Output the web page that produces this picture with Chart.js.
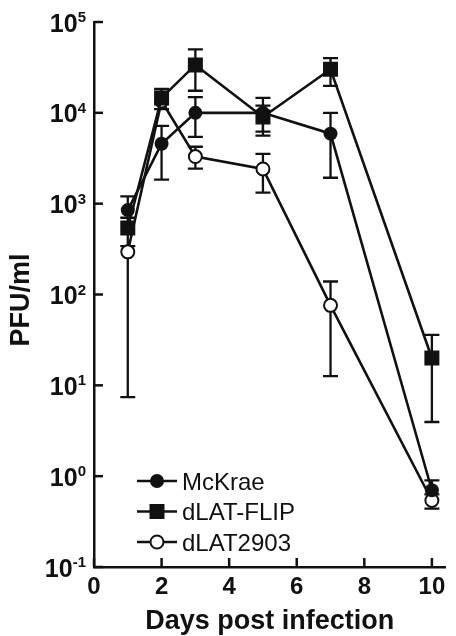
<!DOCTYPE html>
<html>
<head>
<meta charset="utf-8">
<script src="https://cdn.jsdelivr.net/npm/chart.js@4.4.0/dist/chart.umd.min.js"></script>
<style>
  html, body { margin: 0; padding: 0; background: #fff; }
  canvas { display: block; }
</style>
</head>
<body>
<canvas id="chart" width="456" height="636"></canvas>
<script>
/* ── Data ── */
const days = [1, 2, 3, 5, 7, 10];
const xTicks = [0, 2, 4, 6, 8, 10];
const yExponents = [-1, 0, 1, 2, 3, 4, 5];
const seriesNames = ['McKrae', 'dLAT-FLIP', 'dLAT2903'];

const mckrae   = [850, 4570, 10000, 10000, 5900, 0.70];
const mckraeHi = [1200, 7200, 14900, 14600, 10000, 0.90];
const mckraeLo = [null, 1840, 5450, 6200, 1930, null];

const flip   = [540, 14600, 33700, 9000, 30200, 20];
const flipHi = [700, 18300, 50000, 12000, 40000, 36];
const flipLo = [340, 11000, 17500, 5600, 19800, 3.95];

const d2903   = [295, 13500, 3300, 2410, 76, 0.54];
const d2903Hi = [null, null, 4230, 3540, 139, 0.63];
const d2903Lo = [7.4, null, 2430, 1320, 12.6, 0.44];

const INK = '#111111';
const FONT = "'Liberation Sans', Arial, sans-serif";

const errors = [
  { hi: mckraeHi, lo: mckraeLo },
  { hi: flipHi, lo: flipLo },
  { hi: d2903Hi, lo: d2903Lo },
];

function pts(values) {
  return values.map((v, i) => ({ x: days[i], y: v }));
}

/* ── Error bars under the markers ── */
const errorBars = {
  id: 'errorBars',
  beforeDatasetsDraw(chart) {
    const { ctx, scales: { x, y } } = chart;
    ctx.save();
    ctx.strokeStyle = INK;
    ctx.lineWidth = 2.3;
    errors.forEach((err, di) => {
      const vals = chart.data.datasets[di].data;
      vals.forEach((p, j) => {
        const px = x.getPixelForValue(p.x);
        const py = y.getPixelForValue(p.y);
        [err.hi[j], err.lo[j]].forEach(v => {
          if (v == null) return;
          const ey = y.getPixelForValue(v);
          ctx.beginPath();
          ctx.moveTo(px, py);
          ctx.lineTo(px, ey);
          ctx.moveTo(px - 7.5, ey);
          ctx.lineTo(px + 7.5, ey);
          ctx.stroke();
        });
      });
    });
    ctx.restore();
  },
};

/* ── Inward ticks, superscript y labels, y title, legend ── */
const decorations = {
  id: 'decorations',
  afterDraw(chart) {
    const { ctx, chartArea: a, scales: { x, y } } = chart;
    ctx.save();
    ctx.strokeStyle = INK;
    ctx.fillStyle = INK;
    ctx.lineWidth = 2.5;

    // y ticks + labels
    yExponents.forEach(e => {
      const py = y.getPixelForValue(Math.pow(10, e));
      ctx.beginPath();
      ctx.moveTo(a.left, py);
      ctx.lineTo(a.left + 9, py);
      ctx.stroke();

      const sup = e < 0 ? '-' + Math.abs(e) : String(e);
      ctx.font = `bold 15px ${FONT}`;
      const supW = ctx.measureText(sup).width;
      ctx.textAlign = 'right';
      ctx.textBaseline = 'alphabetic';
      ctx.fillText(sup, 86, py);
      ctx.font = `bold 25px ${FONT}`;
      ctx.fillText('10', 86 - supW, py + 9.5);
    });

    // x ticks
    xTicks.forEach(v => {
      const px = x.getPixelForValue(v);
      ctx.beginPath();
      ctx.moveTo(px, a.bottom);
      ctx.lineTo(px, a.bottom - 9);
      ctx.stroke();
    });

    // y title
    ctx.save();
    ctx.translate(22, 300);
    ctx.rotate(-Math.PI / 2);
    ctx.font = `bold 27px ${FONT}`;
    ctx.textAlign = 'center';
    ctx.textBaseline = 'middle';
    ctx.fillText('PFU/ml', 0, 0);
    ctx.restore();

    // legend
    const lx = a.left + 43;
    chart.data.datasets.forEach((ds, i) => {
      const ly = a.bottom - 86 + i * 30.5;
      ctx.lineWidth = 2.5;
      ctx.beginPath();
      ctx.moveTo(lx, ly);
      ctx.lineTo(lx + 40, ly);
      ctx.stroke();
      const mx = lx + 20;
      ctx.beginPath();
      if (ds.pointStyle === 'rect') {
        ctx.rect(mx - 7.5, ly - 7.5, 15, 15);
        ctx.fill();
      } else if (ds.pointBackgroundColor === '#ffffff') {
        ctx.arc(mx, ly, 6.5, 0, Math.PI * 2);
        ctx.fillStyle = '#ffffff';
        ctx.fill();
        ctx.lineWidth = 2;
        ctx.stroke();
        ctx.fillStyle = INK;
      } else {
        ctx.arc(mx, ly, 7, 0, Math.PI * 2);
        ctx.fill();
      }
      ctx.font = `24px ${FONT}`;
      ctx.textAlign = 'left';
      ctx.textBaseline = 'alphabetic';
      ctx.fillText(ds.label, lx + 45, ly + 8.5);
    });
    ctx.restore();
  },
};

new Chart(document.getElementById('chart'), {
  type: 'line',
  data: {
    datasets: [
      {
        label: seriesNames[0],
        data: pts(mckrae),
        borderColor: INK, borderWidth: 2.6,
        pointStyle: 'circle', pointRadius: 7, pointBorderWidth: 0,
        pointBackgroundColor: INK, pointBorderColor: INK,
      },
      {
        label: seriesNames[1],
        data: pts(flip),
        borderColor: INK, borderWidth: 2.6,
        pointStyle: 'rect', pointRadius: 10.6, pointBorderWidth: 0,
        pointBackgroundColor: INK, pointBorderColor: INK,
      },
      {
        label: seriesNames[2],
        data: pts(d2903),
        borderColor: INK, borderWidth: 2.6,
        pointStyle: 'circle', pointRadius: 6.5, pointBorderWidth: 2,
        pointBackgroundColor: '#ffffff', pointBorderColor: INK,
      },
    ],
  },
  options: {
    responsive: false,
    animation: false,
    layout: { padding: { top: 22, right: 0, left: 0, bottom: 0 } },
    plugins: {
      legend: { display: false },
      tooltip: { enabled: false },
    },
    elements: { line: { tension: 0 } },
    scales: {
      x: {
        type: 'linear',
        min: 0,
        max: 10.4,
        afterBuildTicks: s => { s.ticks = xTicks.map(v => ({ value: v })); },
        afterFit: s => { s.height = 69; },
        grid: { display: false, drawTicks: false },
        border: { display: true, color: INK, width: 2.5 },
        ticks: {
          color: INK,
          padding: 6,
          maxRotation: 0,
          font: { family: FONT, size: 24, weight: 'bold' },
        },
        title: {
          display: true,
          text: 'Days post infection',
          color: INK,
          padding: { top: 0, bottom: -2 },
          font: { family: FONT, size: 27, weight: 'bold' },
        },
      },
      y: {
        type: 'logarithmic',
        min: 0.1,
        max: 100000,
        afterBuildTicks: s => { s.ticks = yExponents.map(e => ({ value: Math.pow(10, e) })); },
        afterFit: s => { s.width = 94; },
        grid: { display: false, drawTicks: false },
        border: { display: true, color: INK, width: 2.5 },
        ticks: { display: false },
      },
    },
  },
  plugins: [errorBars, decorations],
});
</script>
</body>
</html>
